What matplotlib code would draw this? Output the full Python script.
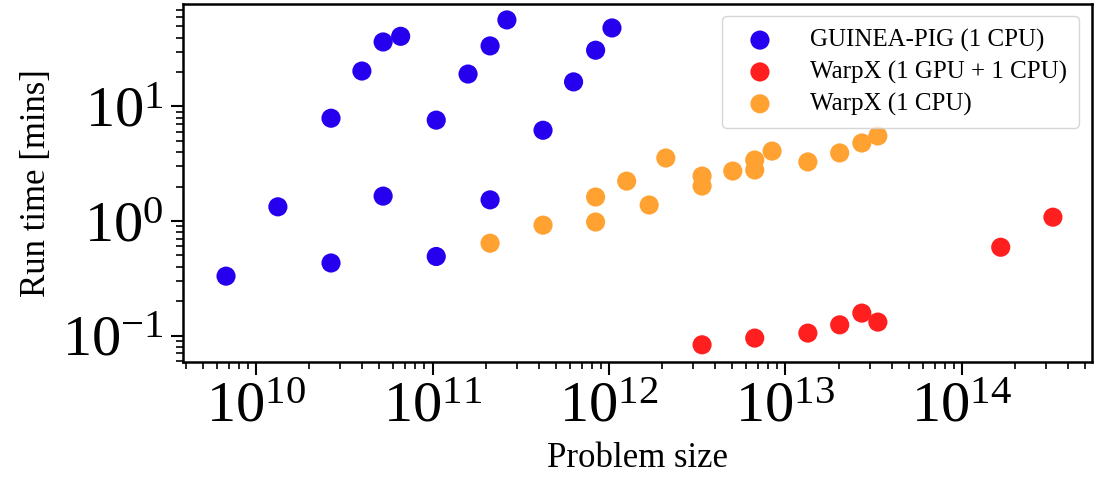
import matplotlib
matplotlib.use("Agg")
import matplotlib.pyplot as plt
import numpy as np

plt.rcParams['font.family'] = ['Liberation Serif', 'DejaVu Serif']
plt.rcParams['mathtext.fontset'] = 'stix'

# GUINEA-PIG (1 CPU)
gp_size = [6.76e9, 1.33e10, 2.66e10, 2.66e10, 3.98e10, 5.25e10, 6.6e10, 5.25e10,
           1.05e11, 1.05e11, 1.59e11, 2.12e11, 2.64e11, 2.12e11,
           4.23e11, 6.3e11, 8.4e11, 1.04e12]
gp_time = [0.33, 1.33, 0.43, 7.9, 20.4, 36.6, 41.0, 1.65,
           0.49, 7.6, 19.2, 33.8, 57.0, 1.53,
           6.2, 16.4, 31.0, 48.5]

# WarpX (1 GPU + 1 CPU)
gpu_size = [3.37e12, 6.7e12, 1.34e13, 2.03e13, 2.71e13, 3.34e13, 1.66e14, 3.28e14]
gpu_time = [0.083, 0.095, 0.105, 0.124, 0.157, 0.131, 0.59, 1.08]

# WarpX (1 CPU)
cpu_size = [2.12e11, 4.23e11, 8.4e11, 8.4e11, 1.26e12, 1.69e12, 2.1e12, 3.37e12,
            3.37e12, 5.03e12, 6.7e12, 6.7e12, 8.4e12, 1.34e13, 2.03e13, 2.71e13, 3.34e13]
cpu_time = [0.64, 0.92, 0.98, 1.62, 2.23, 1.38, 3.55, 2.02,
            2.47, 2.73, 2.79, 3.41, 4.08, 3.28, 3.93, 4.8, 5.53]

fig = plt.figure(figsize=(10.97, 4.87), dpi=100)
ax = fig.add_axes([0.1668, 0.2567, 0.8286, 0.7351])

ax.scatter(gp_size, gp_time, s=190, color='#2600ee', edgecolors='none',
           label='GUINEA-PIG (1 CPU)')
ax.scatter(gpu_size, gpu_time, s=190, color='#ff1f1f', edgecolors='none',
           label='WarpX (1 GPU + 1 CPU)')
ax.scatter(cpu_size, cpu_time, s=190, color='#ffa232', edgecolors='none',
           label='WarpX (1 CPU)')

ax.set_xscale('log')
ax.set_yscale('log')
ax.set_xlim(10**9.586, 10**14.737)
ax.set_ylim(10**-1.231, 10**1.895)
ax.set_xticks([1e10, 1e11, 1e12, 1e13, 1e14])
ax.set_yticks([0.1, 1, 10])

ax.tick_params(which='major', labelsize=42, length=9, width=1.5, pad=5)
ax.tick_params(which='minor', length=5, width=1.2)
for sp in ax.spines.values():
    sp.set_linewidth(1.8)

ax.set_xlabel('Problem size', fontsize=25, labelpad=6)
ax.set_ylabel('Run time [mins]', fontsize=25, labelpad=6)

leg = ax.legend(loc='upper right', fontsize=18, markerscale=1.0,
                handletextpad=1.0, labelspacing=0.35, borderpad=0.5)

fig.savefig('out.png', dpi=100)
